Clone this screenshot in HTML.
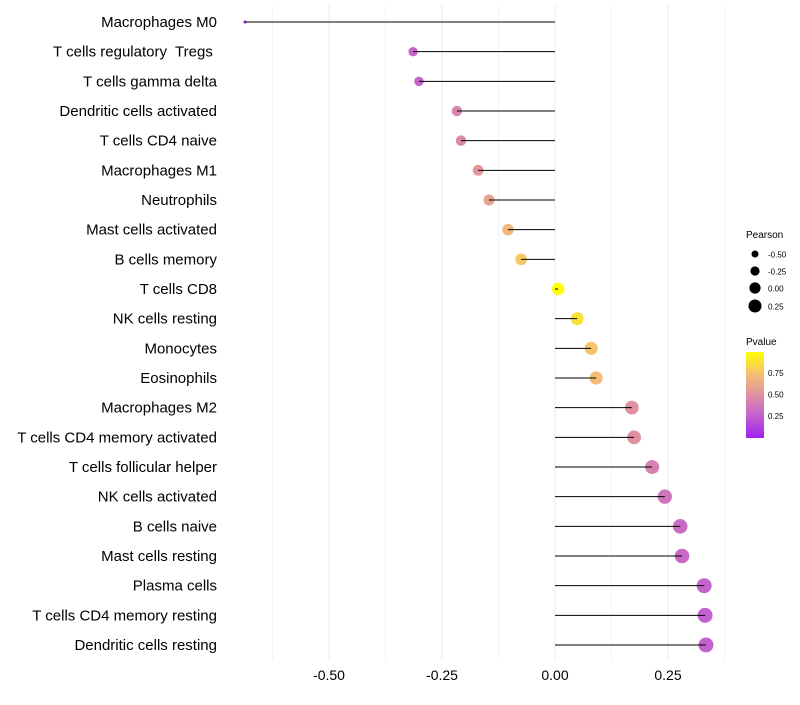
<!DOCTYPE html>
<html><head><meta charset="utf-8"><style>
body{margin:0;background:#fff;}
svg text{font-family:"Liberation Sans",sans-serif;}
</style></head><body>
<svg id="chart" width="800" height="700" xmlns="http://www.w3.org/2000/svg">
<defs><linearGradient id="pg" x1="0" y1="1" x2="0" y2="0">
<stop offset="0" stop-color="#a020f0"/><stop offset="0.25" stop-color="#c060d0"/><stop offset="0.5" stop-color="#e090a0"/><stop offset="0.75" stop-color="#f5c070"/><stop offset="1" stop-color="#ffff00"/></linearGradient></defs>
<g id="grid"></g>
<g id="marks"></g>
<g id="labels"></g>
<g id="xt"></g>
<g>
<text x="746" y="238" font-size="10">Pearson</text>
<circle cx="755" cy="254" r="3.5" fill="#000"/><text x="768" y="257.5" font-size="8">-0.50</text>
<circle cx="755" cy="271" r="4.6" fill="#000"/><text x="768" y="274.5" font-size="8">-0.25</text>
<circle cx="755" cy="288" r="5.6" fill="#000"/><text x="768" y="291.5" font-size="8">0.00</text>
<circle cx="755" cy="306" r="6.5" fill="#000"/><text x="768" y="309.5" font-size="8">0.25</text>
</g>
<g>
<text x="746" y="345" font-size="10">Pvalue</text>
<rect x="746" y="352" width="18" height="86" fill="url(#pg)"/>
<text x="768" y="376" font-size="8">0.75</text>
<text x="768" y="397.5" font-size="8">0.50</text>
<text x="768" y="419" font-size="8">0.25</text>
</g>
</svg>
<script>
const categories=["Macrophages M0","T cells regulatory  Tregs ","T cells gamma delta","Dendritic cells activated","T cells CD4 naive","Macrophages M1","Neutrophils","Mast cells activated","B cells memory","T cells CD8","NK cells resting","Monocytes","Eosinophils","Macrophages M2","T cells CD4 memory activated","T cells follicular helper","NK cells activated","B cells naive","Mast cells resting","Plasma cells","T cells CD4 memory resting","Dendritic cells resting"];
const pearson=[-0.686,-0.314,-0.301,-0.217,-0.208,-0.170,-0.146,-0.104,-0.075,0.007,0.049,0.080,0.091,0.170,0.175,0.215,0.243,0.277,0.281,0.330,0.332,0.334];
const pvalue=[0.0,0.28,0.29,0.44,0.46,0.53,0.6,0.7,0.78,1.0,0.88,0.76,0.73,0.5,0.5,0.42,0.36,0.31,0.3,0.27,0.26,0.26];
const xTicks=[-0.5,-0.25,0,0.25];
const xTickLabels=["-0.50","-0.25","0.00","0.25"];
const NS="http://www.w3.org/2000/svg";
const X=v=>555+v*452;
const Y=i=>22+i*29.667;
const R=v=>Math.sqrt(Math.max(1.5,38.4+52.7*v));
function col(p){const s=[[0,[160,32,240]],[0.25,[192,96,208]],[0.5,[224,144,160]],[0.75,[245,192,112]],[1,[255,255,0]]];
for(let k=0;k<4;k++){if(p<=s[k+1][0]){const t=(p-s[k][0])/(s[k+1][0]-s[k][0]);const c=s[k][1].map((a,j)=>Math.round(a+(s[k+1][1][j]-a)*t));return `rgb(${c})`;}}return "rgb(255,255,0)";}
function mk(tag,attrs,parent){const e=document.createElementNS(NS,tag);for(const k in attrs)e.setAttribute(k,attrs[k]);document.getElementById(parent).appendChild(e);return e;}
for(let v=-0.625;v<=0.376;v+=0.125){const g=mk("line",{x1:X(v),x2:X(v),y1:5,y2:660,stroke:"#ebebeb","stroke-width":Math.abs((v*4)%1)<1e-6?1:0.6},"grid");

}
categories.forEach((c,i)=>{
const p=mk("circle",{cx:X(pearson[i]),cy:Y(i),r:R(pearson[i]),fill:col(pvalue[i])},"marks");


const l=mk("line",{x1:X(0),x2:X(pearson[i]),y1:Y(i),y2:Y(i),stroke:"#000","stroke-width":1},"marks");


const t=mk("text",{x:217,y:Y(i)+5,"font-size":15,"text-anchor":"end",fill:"#000",style:"white-space:pre"},"labels");
t.textContent=c;


});
xTicks.forEach((v,i)=>{const t=mk("text",{x:X(v),y:680,"font-size":14,"text-anchor":"middle",fill:"#000"},"xt");
t.textContent=xTickLabels[i];

});
</script>
</body></html>
